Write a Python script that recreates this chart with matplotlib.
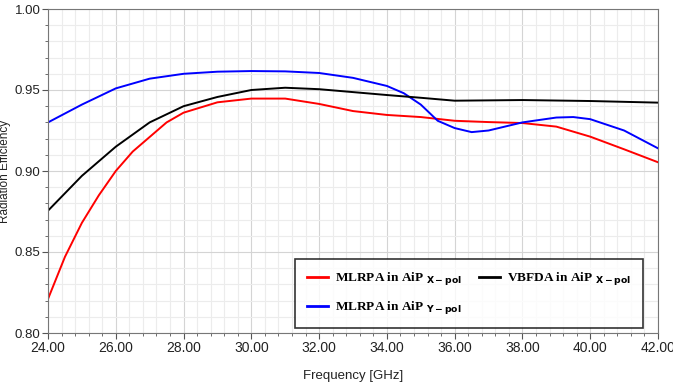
import numpy as np
import matplotlib.pyplot as plt
from matplotlib.ticker import MultipleLocator

# 读取的数据
freq_red = [24.0, 24.5, 25.0, 25.5, 26.0, 26.5, 27.0, 27.5, 28.0, 29.0, 30.0, 31.0, 32.0,
            33.0, 34.0, 35.0, 36.0, 37.0, 38.0, 39.0, 40.0, 41.0, 42.0]
eff_red = [0.821, 0.847, 0.868, 0.885, 0.900, 0.912, 0.921, 0.930, 0.936, 0.9424, 0.9447,
           0.9447, 0.9414, 0.937, 0.9346, 0.9333, 0.931, 0.9302, 0.9296, 0.9274, 0.9212,
           0.9134, 0.9054]

freq_blue = [24.0, 25.0, 26.0, 27.0, 28.0, 29.0, 30.0, 31.0, 32.0, 33.0, 34.0, 34.5, 35.0,
             35.5, 36.0, 36.5, 37.0, 38.0, 39.0, 39.5, 40.0, 41.0, 42.0]
eff_blue = [0.930, 0.941, 0.951, 0.957, 0.9600, 0.9613, 0.9617, 0.9615, 0.9605, 0.9575,
            0.9525, 0.948, 0.941, 0.931, 0.9265, 0.924, 0.925, 0.930, 0.933, 0.9333,
            0.932, 0.925, 0.914]

freq_black = [24.0, 25.0, 26.0, 27.0, 28.0, 29.0, 30.0, 31.0, 32.0, 33.0, 34.0, 35.0, 36.0,
              37.0, 38.0, 39.0, 40.0, 41.0, 42.0]
eff_black = [0.8755, 0.897, 0.915, 0.930, 0.940, 0.9457, 0.950, 0.9514, 0.9505, 0.9487,
             0.9469, 0.9452, 0.9434, 0.9436, 0.9438, 0.9435, 0.9432, 0.9427, 0.9422]

fig = plt.figure(figsize=(6.73, 3.89), dpi=100)
ax = fig.add_axes([48 / 673, 1 - 333 / 389, 610 / 673, 324 / 389])

ax.plot(freq_red, eff_red, color='#ff0000', lw=1.4, label=r'MLRPA in AiP $_{\mathbf{X-pol}}$')
ax.plot(freq_blue, eff_blue, color='#0000ff', lw=1.4, label=r'MLRPA in AiP $_{\mathbf{Y-pol}}$')
ax.plot(freq_black, eff_black, color='#000000', lw=1.4, label=r'VBFDA in AiP $_{\mathbf{X-pol}}$')

ax.set_xlim(24, 42)
ax.set_ylim(0.80, 1.00)
ax.xaxis.set_major_locator(MultipleLocator(2))
ax.xaxis.set_minor_locator(MultipleLocator(0.4))
ax.yaxis.set_major_locator(MultipleLocator(0.05))
ax.yaxis.set_minor_locator(MultipleLocator(0.01))
ax.xaxis.set_major_formatter(plt.FormatStrFormatter('%.2f'))
ax.yaxis.set_major_formatter(plt.FormatStrFormatter('%.2f'))

ax.grid(which='major', color='#d4d4d4', lw=0.8)
ax.grid(which='minor', color='#ececec', lw=0.8)
ax.set_axisbelow(True)

tick_font = ['Liberation Sans', 'DejaVu Sans']
ax.tick_params(which='both', direction='out', colors='#555555', labelcolor='#222222')
ax.tick_params(which='major', length=4, labelsize=10, pad=1.5)
ax.tick_params(axis='y', which='major', labelsize=9.5)
ax.tick_params(which='minor', length=2.5)
for lab in ax.get_xticklabels() + ax.get_yticklabels():
    lab.set_fontfamily(tick_font)
for s in ax.spines.values():
    s.set_color('#777777')

ax.set_xlabel('Frequency [GHz]', fontsize=9.5, family=['Liberation Sans', 'DejaVu Sans'], color='#222222')
ax.set_ylabel('Radiation Efficiency', fontsize=8.5, family=['Liberation Sans', 'DejaVu Sans'], color='#222222')
ax.xaxis.set_label_coords(0.5, -0.115)
ax.yaxis.set_label_coords(-0.06, 0.5)

# 图例
leg = ax.legend(ncol=2, loc='lower right', bbox_to_anchor=(0.975, 0.015), borderaxespad=0,
                prop={'family': 'Liberation Serif', 'weight': 'bold', 'size': 9.5},
                frameon=True, fancybox=False, edgecolor='black', handlelength=1.6,
                columnspacing=1.3, borderpad=0.9, labelspacing=0.9, handletextpad=0.5)
leg.get_frame().set_linewidth(1.2)
for line in leg.get_lines():
    line.set_linewidth(2)

fig.savefig('out.png', dpi=100)
